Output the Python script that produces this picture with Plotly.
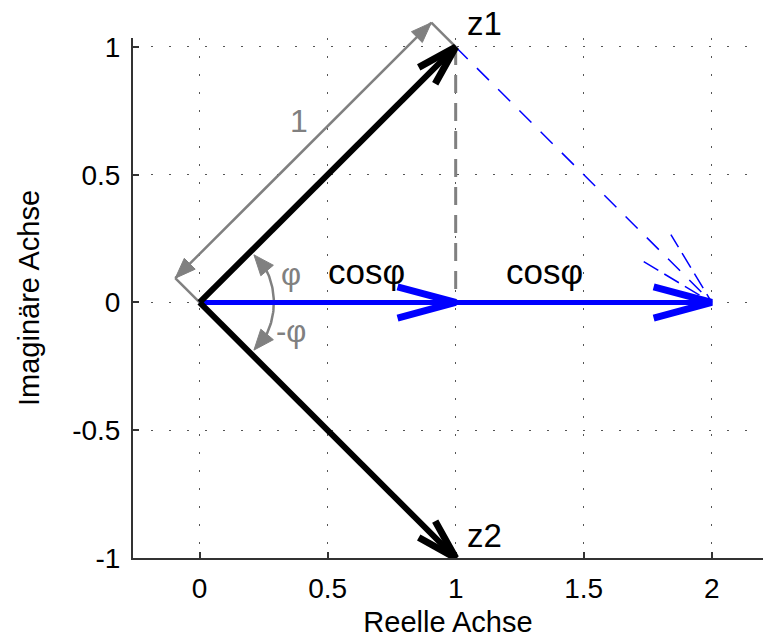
import numpy as np
import plotly.graph_objects as go

# ---- data ----
z1 = (1.0, 1.0)
z2 = (1.0, -1.0)
origin = (0.0, 0.0)
re_z1 = z1[0]                    # cos(phi) projection
re_sum = z1[0] + z2[0]           # z1 + z2 = 2cos(phi)
x_ticks = [0, 0.5, 1, 1.5, 2]
y_ticks = [-1, -0.5, 0, 0.5, 1]
x_tick_labels = ["0", "0.5", "1", "1.5", "2"]
y_tick_labels = ["-1", "-0.5", "0", "0.5", "1"]
x_range = [-0.26, 2.2]
y_range = [-1, 1.035]
dim_offset = 0.095               # offset of the "1" dimension arrow
arc_radius = 0.29
arc_end_deg = 40

FONT = "Liberation Sans, Arial, sans-serif"
BLUE = "#0000FF"
GRAY = "#808080"

W, H = 763, 638
ML, MR, MT, MB = 133, 0, 8, 80
plot_h = H - MT - MB
axis_h = (H - MB) - 38           # axis box height in px (top of axis at 38 px)
px_per_unit_y = axis_h / (y_range[1] - y_range[0])
y2_top = y_range[0] + plot_h / px_per_unit_y

fig = go.Figure()
XR, YR = "x2", "y2"

# invisible trace so the main (visible) axes are drawn
fig.add_trace(go.Scatter(x=[None], y=[None], mode="lines", hoverinfo="skip", xaxis="x", yaxis="y"))


def vhead(tip, tail, length, ang_deg):
    d = np.array(tip) - np.array(tail)
    d = d / np.linalg.norm(d)
    a = np.deg2rad(ang_deg)
    pts = []
    for s in (1, -1):
        c, sn = np.cos(s * a), np.sin(s * a)
        r = np.array([c * d[0] - sn * d[1], sn * d[0] + c * d[1]])
        pts.append(np.array(tip) - length * r)
    return [pts[0][0], tip[0], pts[1][0]], [pts[0][1], tip[1], pts[1][1]]


def tri(tip, direction, length, half):
    d = np.array(direction, float)
    d = d / np.linalg.norm(d)
    n = np.array([-d[1], d[0]])
    base = np.array(tip) - length * d
    p1 = base + half * n
    p2 = base - half * n
    return [tip[0], p1[0], p2[0], tip[0]], [tip[1], p1[1], p2[1], tip[1]]


def line(xs, ys, color, width, dash="solid"):
    fig.add_trace(go.Scatter(x=xs, y=ys, mode="lines", hoverinfo="skip", xaxis=XR, yaxis=YR,
                             line=dict(color=color, width=width, dash=dash)))


def filled(xs, ys, color):
    fig.add_trace(go.Scatter(x=xs, y=ys, mode="lines", fill="toself", fillcolor=color,
                             hoverinfo="skip", xaxis=XR, yaxis=YR,
                             line=dict(color=color, width=1)))


# gray dashed projection line
line([z1[0], z1[0]], [z1[1], 0], GRAY, 3, "18px,10px")

# blue dashed line z1 -> sum with dashed head
line([z1[0], re_sum], [z1[1], 0], BLUE, 1.5, "17px,13px")
hx, hy = vhead((re_sum, 0), z1, 0.31, 14)
line(hx, hy, BLUE, 1.5, "17px,7px")

# gray dimension arrow "1"
off = np.array([-dim_offset, dim_offset])
p0 = np.array(origin) + off
p1 = np.array(z1) + off
line([origin[0], p0[0]], [origin[1], p0[1]], GRAY, 2.5)
line([z1[0], p1[0]], [z1[1], p1[1]], GRAY, 2.5)
line([p0[0], p1[0]], [p0[1], p1[1]], GRAY, 2.5)
tx, ty = tri(p1, p1 - p0, 0.08, 0.03)
filled(tx, ty, GRAY)
tx, ty = tri(p0, p0 - p1, 0.08, 0.03)
filled(tx, ty, GRAY)

# angle arc
th = np.deg2rad(np.linspace(-arc_end_deg + 6, arc_end_deg - 6, 60))
line(list(arc_radius * np.cos(th)), list(arc_radius * np.sin(th)), GRAY, 2.5)
for s in (1, -1):
    t = np.deg2rad(s * arc_end_deg)
    tip = (arc_radius * np.cos(t) - 0.01, arc_radius * np.sin(t))
    dirv = (-np.sin(t) * s, np.cos(t) * s)
    tx, ty = tri(tip, dirv, 0.08, 0.032)
    filled(tx, ty, GRAY)

# blue cos arrows
line([origin[0], re_sum], [0, 0], BLUE, 5)
for tipx, tailx in ((re_z1, origin[0]), (re_sum, re_z1)):
    hx, hy = vhead((tipx, 0), (tailx, 0), 0.235, 15)
    line(hx, hy, BLUE, 7)

# black vectors z1, z2
for z in (z1, z2):
    line([origin[0], z[0]], [origin[1], z[1]], "black", 6)
    hx, hy = vhead(z, origin, 0.165, 16)
    line(hx, hy, "black", 7)


# labels
def label(text, x, y, color="black", size=33, xanchor="center"):
    fig.add_annotation(x=x, y=y, xref=XR, yref=YR, text=text, showarrow=False,
                       xanchor=xanchor, yanchor="middle",
                       font=dict(family=FONT, size=size, color=color))


label("z1", z1[0] + 0.035, z1[1] + 0.09, xanchor="left")
label("z2", z2[0] + 0.035, z2[1] + 0.09, xanchor="left")
label("cosφ", re_z1 * 0.652, 0.12, size=35)
label("cosφ", re_z1 + 0.345, 0.12, size=35)
label("φ", 0.357, 0.11, GRAY, 31)
label("-φ", 0.355, -0.115, GRAY, 31)
label("1", 0.39, 0.71, GRAY, 32)

axis_common = dict(showgrid=True, gridcolor="#555555", gridwidth=1.3, griddash="2px,16px",
                   zeroline=False, showline=True, linecolor="#333333", linewidth=2,
                   ticks="inside", ticklen=6, tickcolor="#333333", tickwidth=1.5,
                   tickfont=dict(family=FONT, size=28, color="black"))

fig.update_layout(
    width=W, height=H,
    margin=dict(l=ML, r=MR, t=MT, b=MB),
    paper_bgcolor="white", plot_bgcolor="rgba(0,0,0,0)",
    showlegend=False,
    xaxis=dict(range=x_range, tickvals=x_ticks, ticktext=x_tick_labels, anchor="y",
               title=dict(text="Reelle Achse", font=dict(family=FONT, size=29, color="black"), standoff=10),
               ticklabelstandoff=4, **axis_common),
    yaxis=dict(range=y_range, tickvals=y_ticks, ticktext=y_tick_labels, anchor="x",
               domain=[0, axis_h / plot_h],
               title=dict(text="Imaginäre Achse", font=dict(family=FONT, size=29, color="black"), standoff=24),
               ticklabelstandoff=5, **axis_common),
    xaxis2=dict(range=x_range, domain=[0, 1], anchor="y2", visible=False, showgrid=False),
    yaxis2=dict(range=[y_range[0], y2_top], domain=[0, 1], anchor="x2", visible=False, showgrid=False),
)

fig.write_html("out.html")
